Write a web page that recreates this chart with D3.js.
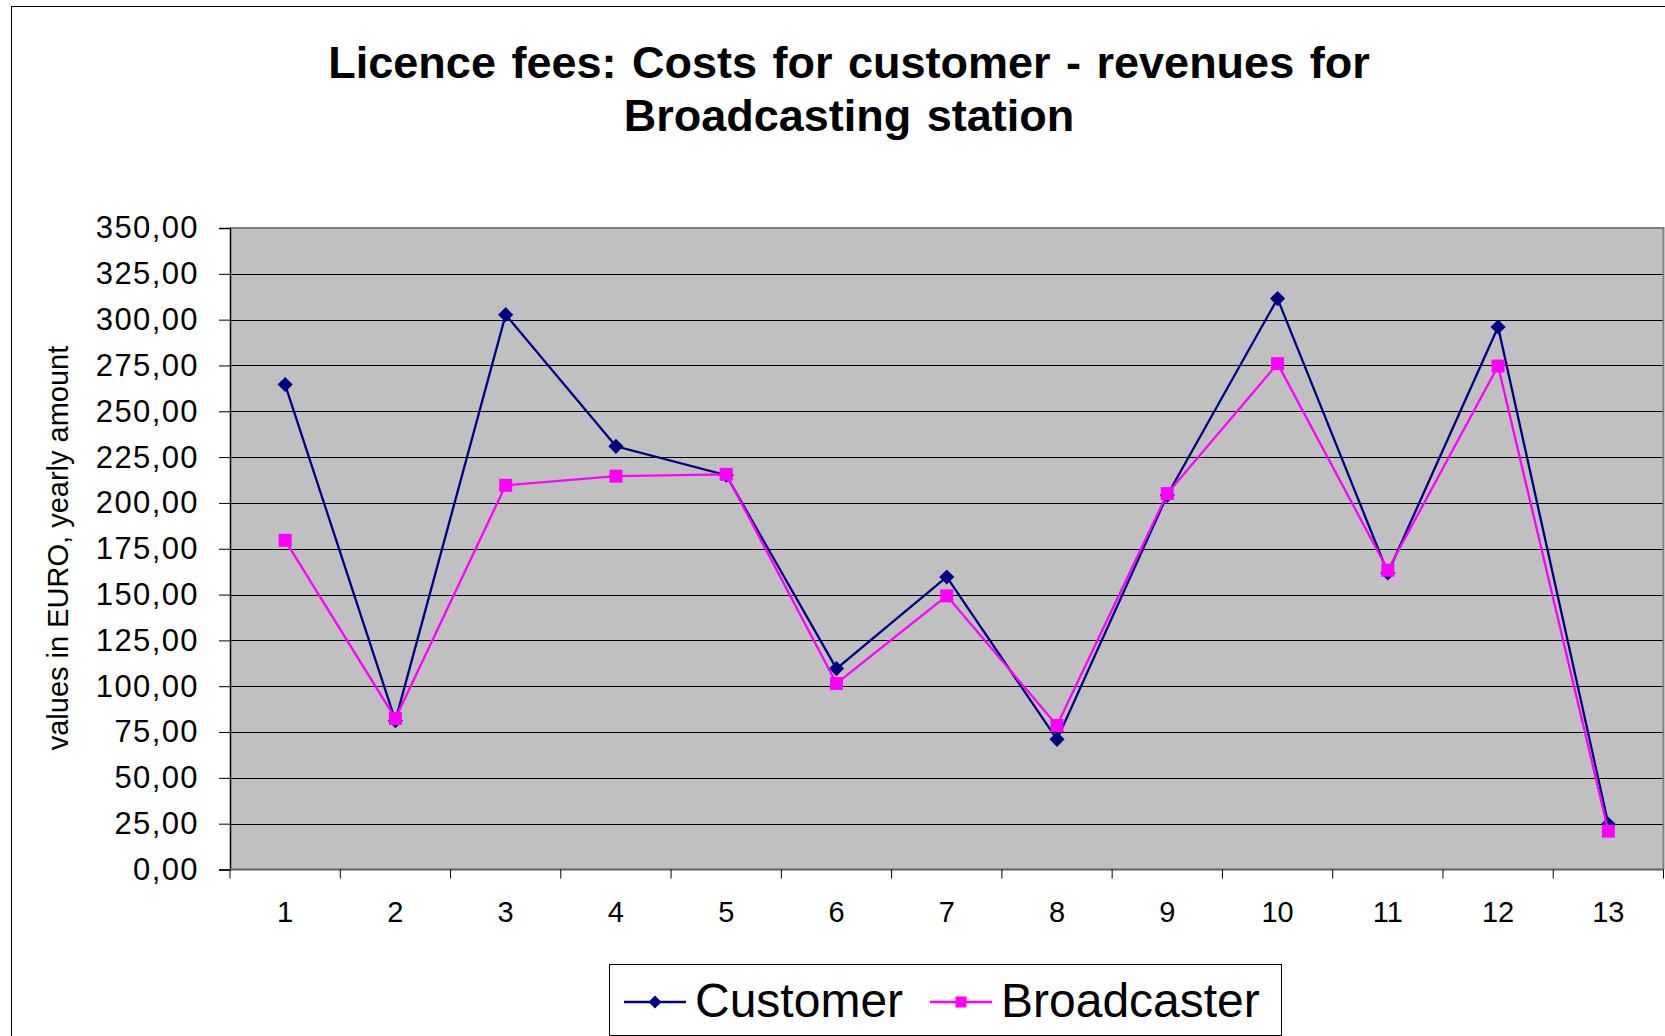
<!DOCTYPE html>
<html>
<head>
<meta charset="utf-8">
<script src="https://cdn.jsdelivr.net/npm/d3@7"></script>
<style>
  html, body { margin: 0; padding: 0; background: #ffffff; }
  svg { display: block; font-family: Arial, "Liberation Sans", sans-serif; }
</style>
</head>
<body>
<svg id="chart" width="1665" height="1036"></svg>
<script>
// ---------- data ----------
const categories = ["1","2","3","4","5","6","7","8","9","10","11","12","13"];
const customer    = [264.6, 81.2, 302.7, 230.9, 215.1, 109.6, 159.6, 71.0, 204.2, 311.5, 161.8, 296.0, 24.7];
const broadcaster = [179.6, 82.4, 209.6, 214.6, 215.6, 101.5, 149.3, 78.6, 205.1, 276.0, 163.3, 274.7, 20.9];
const yTickValues = [0, 25, 50, 75, 100, 125, 150, 175, 200, 225, 250, 275, 300, 325, 350];
const titleLines  = ["Licence fees: Costs for customer - revenues for", "Broadcasting station"];
const yAxisTitle  = "values in EURO, yearly amount";
const seriesNames = ["Customer", "Broadcaster"];

// ---------- layout ----------
const W = 1665, H = 1036;
const plot = { left: 230, right: 1663.5, top: 228, bottom: 869.5 };
const colors = { Customer: "#000080", Broadcaster: "#FF00FF" };

const svg = d3.select("#chart");
svg.append("rect").attr("x", 0).attr("y", 0).attr("width", W).attr("height", H).attr("fill", "#fff");

// outer chart frame (extends beyond the viewport right/bottom)
svg.append("rect")
  .attr("x", 11.5).attr("y", 6.5)
  .attr("width", W + 20).attr("height", H + 20)
  .attr("fill", "none").attr("stroke", "#000").attr("stroke-width", 1);

// scales
const x = d3.scaleBand().domain(categories).range([plot.left, plot.right]).padding(0);
const y = d3.scaleLinear().domain([0, 350]).range([plot.bottom, plot.top]);
const cx = d => x(d) + x.bandwidth() / 2;

const locale = d3.formatLocale({ decimal: ",", thousands: ".", grouping: [3], currency: ["", " €"] });
const fmt = locale.format(".2f");

// plot background
svg.append("rect")
  .attr("x", plot.left).attr("y", plot.top)
  .attr("width", plot.right - plot.left).attr("height", plot.bottom - plot.top)
  .attr("fill", "#C0C0C0");

// gridlines
svg.append("g").selectAll("line").data(yTickValues.filter(v => v > 0 && v < 350)).join("line")
  .attr("x1", plot.left).attr("x2", plot.right)
  .attr("y1", d => Math.round(y(d)) + 0.5).attr("y2", d => Math.round(y(d)) + 0.5)
  .attr("stroke", "#000").attr("stroke-width", 1);

// plot border top/right
svg.append("path")
  .attr("d", `M${plot.left},${plot.top} H${plot.right} V${plot.bottom}`)
  .attr("fill", "none").attr("stroke", "#808080").attr("stroke-width", 2);

// y axis
const yAxis = d3.axisLeft(y).tickValues(yTickValues).tickFormat(fmt).tickSize(11).tickPadding(20);
const gy = svg.append("g").attr("transform", `translate(${plot.left},0)`).call(yAxis);
gy.select(".domain").attr("stroke", "#000").attr("stroke-width", 1.5);
gy.selectAll(".tick line").attr("stroke", "#000").attr("stroke-width", 1);
gy.selectAll(".tick text")
  .attr("font-size", 31).attr("fill", "#000")
  .attr("letter-spacing", "1.4px")
  .attr("font-family", "Arial, 'Liberation Sans', sans-serif");

// x axis (ticks on category boundaries, labels at centers)
const gx = svg.append("g").attr("transform", `translate(0,${plot.bottom})`);
gx.append("line").attr("x1", plot.left).attr("x2", plot.right).attr("y1", 0).attr("y2", 0)
  .attr("stroke", "#606060").attr("stroke-width", 2);
const boundaries = categories.map(c => x(c)).concat([plot.right]);
gx.selectAll("line.tk").data(boundaries).join("line").attr("class", "tk")
  .attr("x1", d => d).attr("x2", d => d).attr("y1", 0).attr("y2", 9)
  .attr("stroke", "#000").attr("stroke-width", 1);
gx.selectAll("text").data(categories).join("text")
  .attr("x", d => cx(d)).attr("y", 52)
  .attr("text-anchor", "middle").attr("font-size", 29).attr("fill", "#000")
  .text(d => d);

// y axis title
svg.append("text")
  .attr("transform", "translate(68,548) rotate(-90)")
  .attr("text-anchor", "middle").attr("font-size", 29).attr("fill", "#000")
  .text(yAxisTitle);

// title
svg.append("g").selectAll("text").data(titleLines).join("text")
  .attr("x", 849).attr("y", (d, i) => 78 + i * 53)
  .attr("text-anchor", "middle").attr("font-size", 45).attr("font-weight", "bold")
  .attr("word-spacing", "3px").attr("fill", "#000")
  .text(d => d);

// series
const series = [
  { name: seriesNames[0], values: customer, symbol: "diamond" },
  { name: seriesNames[1], values: broadcaster, symbol: "square" }
];
const line = d3.line().x((d, i) => cx(categories[i])).y(d => y(d));
const sq = size => d3.symbol(d3.symbolSquare, size)();

series.forEach(s => {
  const g = svg.append("g");
  g.append("path").datum(s.values)
    .attr("d", line).attr("fill", "none")
    .attr("stroke", colors[s.name]).attr("stroke-width", 2.3).attr("stroke-linejoin", "miter");
  g.selectAll("path.m").data(s.values).join("path").attr("class", "m")
    .attr("d", s.symbol === "diamond" ? sq(115) : sq(169))
    .attr("transform", (d, i) => `translate(${cx(categories[i])},${y(d)})` + (s.symbol === "diamond" ? " rotate(45)" : ""))
    .attr("fill", colors[s.name]);
});

// legend
const lg = svg.append("g");
lg.append("rect").attr("x", 609.5).attr("y", 964.5).attr("width", 672).attr("height", 71)
  .attr("fill", "#fff").attr("stroke", "#000").attr("stroke-width", 1);
const legendItems = [
  { name: seriesNames[0], x0: 624, symbol: "diamond", textX: 695 },
  { name: seriesNames[1], x0: 930, symbol: "square", textX: 1001 }
];
legendItems.forEach(it => {
  lg.append("line").attr("x1", it.x0).attr("x2", it.x0 + 62).attr("y1", 1002).attr("y2", 1002)
    .attr("stroke", colors[it.name]).attr("stroke-width", 2.3);
  lg.append("path")
    .attr("d", it.symbol === "diamond" ? sq(85) : sq(121))
    .attr("transform", `translate(${it.x0 + 31},1002)` + (it.symbol === "diamond" ? " rotate(45)" : ""))
    .attr("fill", colors[it.name]);
  lg.append("text").attr("x", it.textX).attr("y", 1017)
    .attr("font-size", 48).attr("fill", "#000").text(it.name);
});
</script>
</body>
</html>
